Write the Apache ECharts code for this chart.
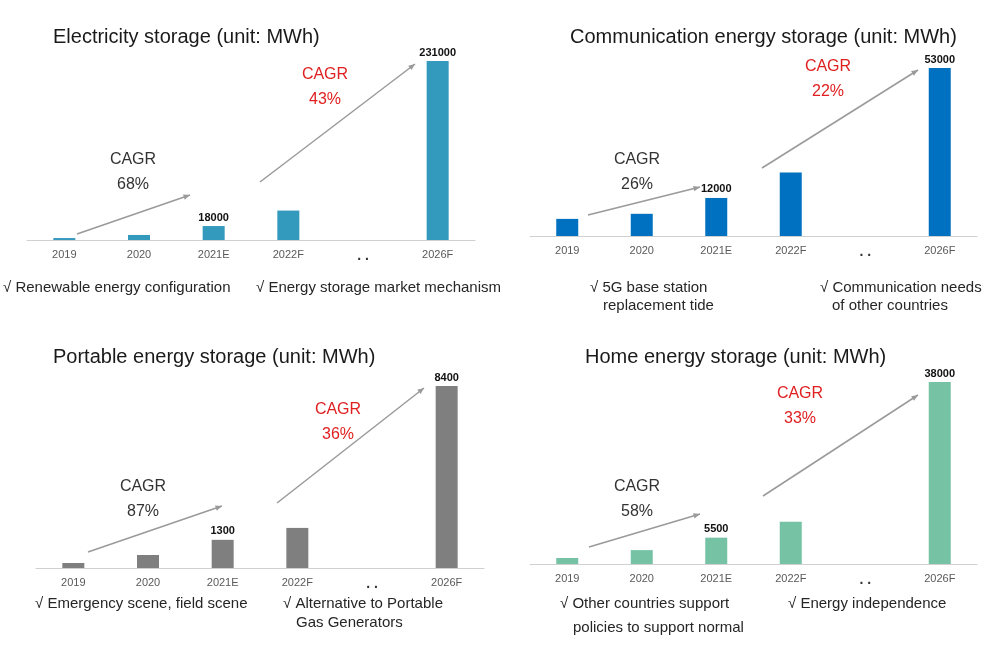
<!DOCTYPE html>
<html><head><meta charset="utf-8">
<script src="https://cdn.jsdelivr.net/npm/echarts@6/dist/echarts.min.js"></script>
<style>html,body{margin:0;padding:0;background:#fff}#c{width:1000px;height:651px}</style>
</head><body><div id="c"></div>
<script>
const categories = ['2019','2020','2021E','2022F','. .','2026F'];
const electricity = [2500, 6500, 18000, 38000, null, 231000];
const communication = [5400, 7000, 12000, 20000, null, 53000];
const portable = [230, 600, 1300, 1850, null, 8400];
const home = [1250, 2900, 5500, 8800, null, 38000];
const titles = ['Electricity storage (unit: MWh)','Communication energy storage (unit: MWh)','Portable energy storage (unit: MWh)','Home energy storage (unit: MWh)'];
const colors = ['#3399BD','#0070C0','#7F7F7F','#76C2A5'];
const labelled = ['2021E','2026F'];

const FONT = '"Liberation Sans Narrow","Liberation Sans",Arial,sans-serif';
const seriesData = [electricity, communication, portable, home];
const grids = [
  {left:27, right:525, top:61, bottom:411},
  {left:530, right:23, top:68, bottom:415},
  {left:36, right:516, top:386, bottom:83},
  {left:530, right:23, top:382, bottom:87}
];
const chart = echarts.init(document.getElementById('c'));
const g = [];
function txt(x,y,t,opt){g.push(Object.assign({type:'text',x:x,y:y,style:Object.assign({text:t,font:'15px '+FONT,fill:'#262626',textVerticalAlign:'middle'},opt||{})}));}
function arrow(x1,y1,x2,y2){
  g.push({type:'line',shape:{x1,y1,x2,y2},style:{stroke:'#9a9a9a',lineWidth:1.5}});
  const a=Math.atan2(y2-y1,x2-x1),L=7;
  g.push({type:'polygon',shape:{points:[[x2,y2],[x2-L*Math.cos(a-0.4),y2-L*Math.sin(a-0.4)],[x2-L*Math.cos(a+0.4),y2-L*Math.sin(a+0.4)]]},style:{fill:'#9a9a9a'}});
}
const tpos=[[53,37],[570,37],[53,357],[585,357]];
tpos.forEach((p,i)=>txt(p[0],p[1],titles[i],{font:'20px '+FONT,fill:'#1a1a1a'}));
// annotations
const ann=[
 {l1:[77,234,190,195],l2:[260,182,415,64],c1:[133,160],p1:'68%',c2:[325,75],p2:'43%'},
 {l1:[588,215,700,187],l2:[762,168,918,70],c1:[637,160],p1:'26%',c2:[828,67],p2:'22%'},
 {l1:[88,552,222,506],l2:[277,503,424,388],c1:[143,487],p1:'87%',c2:[338,410],p2:'36%'},
 {l1:[589,547,700,514],l2:[763,496,918,395],c1:[637,487],p1:'58%',c2:[800,394],p2:'33%'}
];
ann.forEach(a=>{
  arrow(...a.l1);arrow(...a.l2);
  txt(a.c1[0],a.c1[1],'CAGR',{font:'16px '+FONT,textAlign:'center',fill:'#333'});
  txt(a.c1[0],a.c1[1]+25,a.p1,{font:'16px '+FONT,textAlign:'center',fill:'#333'});
  txt(a.c2[0],a.c2[1],'CAGR',{font:'16px '+FONT,textAlign:'center',fill:'#E02020'});
  txt(a.c2[0],a.c2[1]+25,a.p2,{font:'16px '+FONT,textAlign:'center',fill:'#E02020'});
});
txt(3,288,'√ Renewable energy configuration');
txt(256,288,'√ Energy storage market mechanism');
txt(590,288,'√ 5G base station');
txt(603,306,'replacement tide');
txt(820,288,'√ Communication needs');
txt(832,306,'of other countries');
txt(35,604,'√ Emergency scene, field scene');
txt(283,604,'√ Alternative to Portable');
txt(296,623,'Gas Generators');
txt(560,604,'√ Other countries support');
txt(573,628,'policies to support normal');
txt(788,604,'√ Energy independence');

chart.setOption({
  animation:false,
  grid:grids,
  xAxis:grids.map((_,i)=>({type:'category',gridIndex:i,data:categories,
    axisLine:{lineStyle:{color:'#d0d0d0'}},axisTick:{show:false},
    axisLabel:{color:'#595959',fontSize:11,fontFamily:FONT,margin:9,
      formatter:v=>v==='. .'?'{b|'+v+'}':v,rich:{b:{fontWeight:'bold',fontSize:14,color:'#333'}}}})),
  yAxis:grids.map((_,i)=>({type:'value',gridIndex:i,min:0,max:'dataMax',show:false,splitLine:{show:false}})),
  series:seriesData.map((d,i)=>({type:'bar',xAxisIndex:i,yAxisIndex:i,barWidth:22,
    itemStyle:{color:colors[i]},
    data:d.map((v,k)=>({value:v,label:{show:labelled.includes(categories[k]),position:'top',distance:3,
      fontWeight:'bold',fontSize:11,color:'#111',fontFamily:FONT}}))})),
  graphic:g
});
</script></body></html>
